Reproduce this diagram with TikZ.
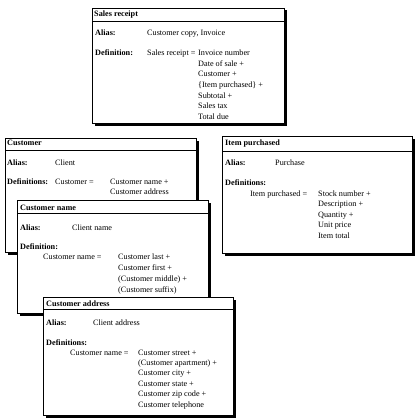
\documentclass[tikz,border=0pt]{standalone}
\usepackage{fontspec}
\setmainfont{Liberation Serif}

\def\rowsep{10.5}
% box with shadow: x1, y1, x2, y2, title rule
\def\cardbox#1#2#3#4#5{%
    \fill[shade] (#1+2.5,#2+2.5) rectangle (#3+2.5,#4+2.5);
    \draw[card] (#1,#2) rectangle (#3,#4);
    \draw[card] (#1,#5) -- (#3,#5);}

\begin{document}
\begin{tikzpicture}[x=1pt,y=-1pt,font=\fontsize{8.2}{10}\selectfont]
        \tikzstyle{card}=[fill=white,draw=black,line width=0.7pt]
        \tikzstyle{shade}=[fill=black]
        \tikzstyle{txt}=[anchor=west,inner sep=0pt,text height=6pt,text depth=2pt]
        \tikzstyle{head}=[txt,font=\fontsize{8.2}{10}\selectfont\bfseries]
        \useasboundingbox (0,0) rectangle (418,420);
        % Sales receipt
        \cardbox{92}{8}{284}{123}{21}
        \node[head] (SR-title) at (94,15) {Sales receipt};
        \node[head] (SR-alias) at (95,34) {Alias:};
        \node[txt] (SR-aka) at (147,34) {Customer copy, Invoice};
        \node[head] (SR-def) at (95,54) {Definition:};
        \node[txt] (SR-lhs) at (147,54) {Sales receipt =};
        \foreach \t [count=\i from 0] in {Invoice number, Date of sale +,
                Customer +, \{Item purchased\} +, Subtotal +, Sales tax, Total due}
            \node[txt] (SR-\i) at (198,54+\rowsep*\i) {\t};
        % Customer
        \cardbox{5}{138}{196}{252}{150}
        \node[head] (C-title) at (7,143) {Customer};
        \node[head] (C-alias) at (7,163) {Alias:};
        \node[txt] (C-aka) at (55,163) {Client};
        \node[head] (C-def) at (7,182) {Definitions:};
        \node[txt] (C-lhs) at (55,182) {Customer =};
        \foreach \t [count=\i from 0] in {Customer name +, Customer address}
            \node[txt] (C-\i) at (110,182+\rowsep*\i) {\t};
        % Item purchased
        \cardbox{222}{136}{412}{253}{151}
        \node[head] (IP-title) at (225,143) {Item purchased};
        \node[head] (IP-alias) at (225,163) {Alias:};
        \node[txt] (IP-aka) at (275,163) {Purchase};
        \node[head] (IP-def) at (225,183) {Definitions:};
        \node[txt] (IP-lhs) at (250,194) {Item purchased =};
        \foreach \t [count=\i from 0] in {Stock number +, Description +,
                Quantity +, Unit price, Item total}
            \node[txt] (IP-\i) at (318,194+\rowsep*\i) {\t};
        % Customer name
        \cardbox{17}{200}{208}{313}{213}
        \node[head] (CN-title) at (20,208) {Customer name};
        \node[head] (CN-alias) at (20,228) {Alias:};
        \node[txt] (CN-aka) at (72,228) {Client name};
        \node[head] (CN-def) at (20,247) {Definition:};
        \node[txt] (CN-lhs) at (43,257) {Customer name =};
        \foreach \t [count=\i from 0] in {Customer last +, Customer first +,
                (Customer middle) +, (Customer suffix)}
            \node[txt] (CN-\i) at (118,257+11*\i) {\t};
        % Customer address
        \cardbox{43}{297}{233}{415}{309}
        \node[head] (CA-title) at (46,304) {Customer address};
        \node[head] (CA-alias) at (46,323) {Alias:};
        \node[txt] (CA-aka) at (93,323) {Client address};
        \node[head] (CA-def) at (46,343) {Definitions:};
        \node[txt] (CA-lhs) at (70,353) {Customer name =};
        \foreach \t [count=\i from 0] in {Customer street +, (Customer apartment) +,
                Customer city +, Customer state +, Customer zip code +, Customer telephone}
            \node[txt] (CA-\i) at (138,353+10.4*\i) {\t};
    \end{tikzpicture}
\end{document}
